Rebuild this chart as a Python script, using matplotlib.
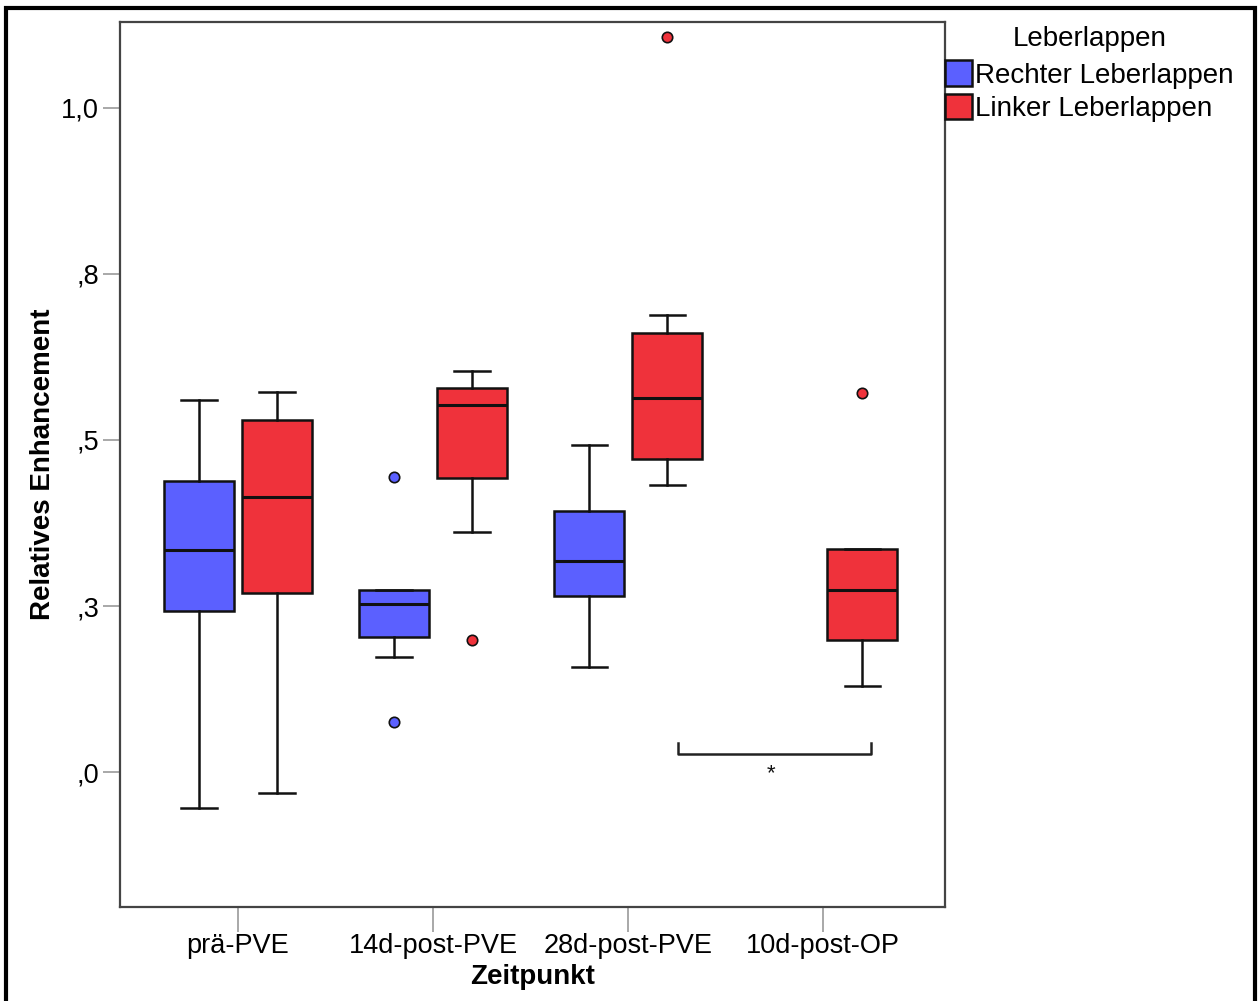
import matplotlib
matplotlib.use("Agg")
import matplotlib.pyplot as plt
from matplotlib.patches import Patch, Rectangle

plt.rcParams['font.family'] = ['Liberation Sans', 'DejaVu Sans']

# ---- data ----
categories = ['prä-PVE', '14d-post-PVE', '28d-post-PVE', '10d-post-OP']
series = ['Rechter Leberlappen', 'Linker Leberlappen']
legend_title = 'Leberlappen'

# Rechter Leberlappen (no data for 10d-post-OP)
r_whislo = [-0.054, 0.173, 0.158]
r_q1     = [0.2425, 0.203, 0.265]
r_med    = [0.334, 0.253, 0.318]
r_q3     = [0.438, 0.274, 0.393]
r_whishi = [0.560, 0.274, 0.4925]
r_fliers = [[], [0.444, 0.075], []]

# Linker Leberlappen
l_whislo = [-0.032, 0.361, 0.432, 0.1295]
l_q1     = [0.270, 0.443, 0.471, 0.199]
l_med    = [0.414, 0.553, 0.563, 0.274]
l_q3     = [0.530, 0.578, 0.661, 0.336]
l_whishi = [0.572, 0.604, 0.688, 0.336]
l_fliers = [[], [0.199], [1.107], [0.571]]

ytick_vals = [0.0, 0.25, 0.5, 0.75, 1.0]
ytick_labels = [',0', ',3', ',5', ',8', '1,0']

bracket_x = [2.256, 2.256, 3.246, 3.246]
bracket_y = [0.0437, 0.027, 0.027, 0.0437]
star_pos = (2.733, -0.002)

blue = '#5b60ff'
red = '#ef323b'

fig = plt.figure(figsize=(12.59, 10.01), dpi=100)
ax = fig.add_axes([120/1259, 94/1001, 825/1259, 885/1001])

def mk(wl, q1, md, q3, wh, fl):
    return [dict(whislo=a, q1=b, med=c, q3=d, whishi=e, fliers=f)
            for a, b, c, d, e, f in zip(wl, q1, md, q3, wh, fl)]

r_stats = mk(r_whislo, r_q1, r_med, r_q3, r_whishi, r_fliers)
l_stats = mk(l_whislo, l_q1, l_med, l_q3, l_whishi, l_fliers)

off = 0.2
w = 0.36
for stats, pos, col in [(r_stats, [i - off for i in range(len(r_stats))], blue),
                         (l_stats, [i + off for i in range(len(l_stats))], red)]:
    ax.bxp(stats, positions=pos, widths=w, patch_artist=True, showfliers=True,
           boxprops=dict(facecolor=col, edgecolor='#111111', linewidth=1.8),
           medianprops=dict(color='#111111', linewidth=2.2),
           whiskerprops=dict(color='#111111', linewidth=1.8),
           capprops=dict(color='#111111', linewidth=1.8),
           capwidths=w/2,
           flierprops=dict(marker='o', markerfacecolor=col, markeredgecolor='#111111',
                           markersize=7.5, markeredgewidth=1.2, linestyle='none'),
           manage_ticks=False, zorder=3)

ax.plot(bracket_x, bracket_y, color='#222222', linewidth=1.8)
ax.text(star_pos[0], star_pos[1], '*', ha='center', va='center', fontsize=16, color='#111111')

ax.set_xlim(-0.605, 3.625)
ax.set_ylim(-0.2033, 1.1295)
ax.set_xticks(range(len(categories)))
ax.set_xticklabels(categories, fontsize=19.5)
ax.set_yticks(ytick_vals)
ax.set_yticklabels(ytick_labels, fontsize=19.5)
ax.tick_params(axis='y', length=12, width=1.2, color='#9a9a9a', pad=3)
ax.tick_params(axis='x', length=18, width=1.2, color='#9a9a9a', pad=1)
for s in ax.spines.values():
    s.set_color('#444444')
    s.set_linewidth(1.6)

ax.set_xlabel('Zeitpunkt', fontsize=20, fontweight='bold', labelpad=3)
ax.set_ylabel('Relatives Enhancement', fontsize=20, fontweight='bold', labelpad=4)

handles = [Patch(facecolor=blue, edgecolor='#111111', linewidth=1.8),
           Patch(facecolor=red, edgecolor='#111111', linewidth=1.8)]
leg = fig.legend(handles, series, title=legend_title, loc='upper left',
                 bbox_to_anchor=(945/1259, 1 - 26/1001), frameon=False,
                 fontsize=20, title_fontsize=20, handlelength=0.97, handleheight=1.05,
                 handletextpad=0.12, labelspacing=0.18, borderpad=0, borderaxespad=0)
leg._legend_box.sep = 6

fig.patches.append(Rectangle((6/1259, -0.05), 1249/1259, 1.05 - 8/1001,
                             transform=fig.transFigure, fill=False,
                             edgecolor='black', linewidth=3))

fig.savefig('out.png', dpi=100)
